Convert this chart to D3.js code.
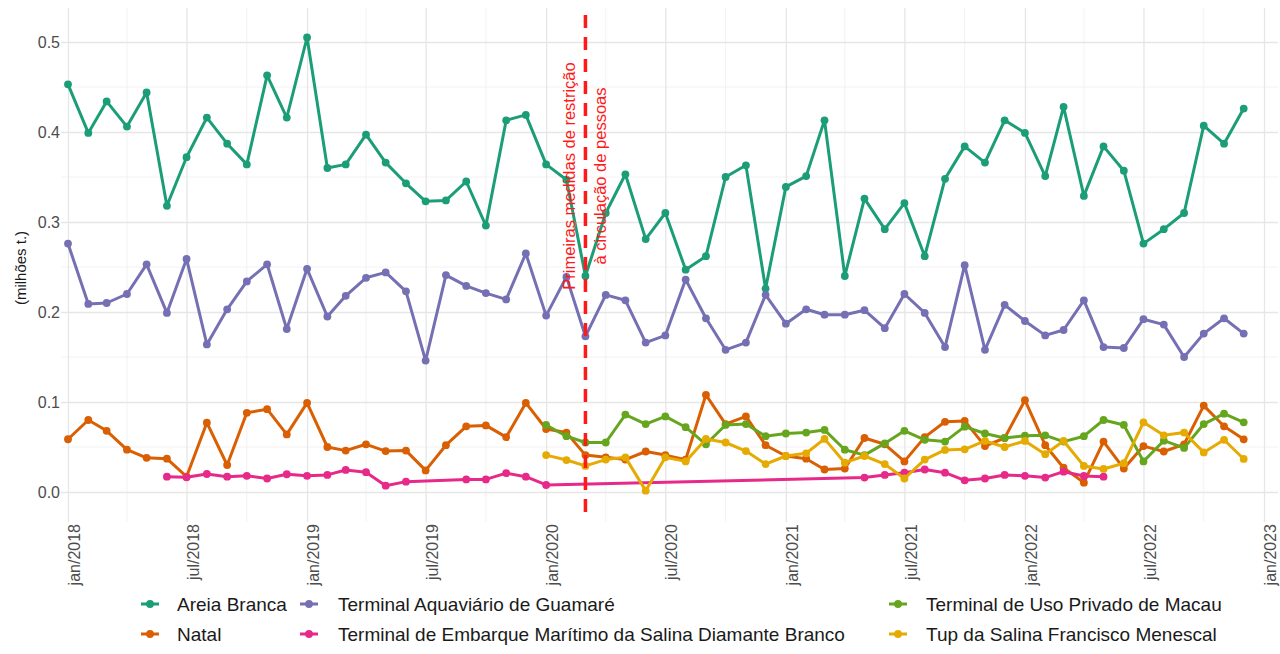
<!DOCTYPE html>
<html>
<head>
<meta charset="utf-8">
<script src="https://cdn.jsdelivr.net/npm/d3@7"></script>
<style>
  html, body { margin: 0; padding: 0; background: #fff; }
  svg { display: block; font-family: "Liberation Sans", Arial, sans-serif; }
</style>
</head>
<body>
<svg id="chart" width="1280" height="654"></svg>
<script>
// ---------------- DATA ----------------
const months = [
  "2018-01","2018-02","2018-03","2018-04","2018-05","2018-06","2018-07","2018-08","2018-09","2018-10","2018-11","2018-12",
  "2019-01","2019-02","2019-03","2019-04","2019-05","2019-06","2019-07","2019-08","2019-09","2019-10","2019-11","2019-12",
  "2020-01","2020-02","2020-03","2020-04","2020-05","2020-06","2020-07","2020-08","2020-09","2020-10","2020-11","2020-12",
  "2021-01","2021-02","2021-03","2021-04","2021-05","2021-06","2021-07","2021-08","2021-09","2021-10","2021-11","2021-12",
  "2022-01","2022-02","2022-03","2022-04","2022-05","2022-06","2022-07","2022-08","2022-09","2022-10","2022-11","2022-12"
];

const areiaBranca = [
  0.453,0.399,0.434,0.406,0.444,0.318,0.372,0.416,0.387,0.364,0.463,0.416,
  0.505,0.360,0.364,0.397,0.366,0.343,0.323,0.324,0.345,0.296,0.413,0.419,
  0.364,0.347,0.240,0.310,0.353,0.281,0.310,0.247,0.262,0.350,0.363,0.226,
  0.339,0.351,0.413,0.240,0.326,0.292,0.321,0.262,0.348,0.384,0.366,0.413,
  0.399,0.351,0.428,0.329,0.384,0.357,0.276,0.292,0.310,0.407,0.387,0.426
];
const natal = [
  0.0586,0.080,0.068,0.047,0.038,0.037,0.017,0.077,0.030,0.088,0.092,0.064,
  0.099,0.050,0.046,0.053,0.0455,0.046,0.024,0.052,0.073,0.074,0.061,0.099,
  0.070,0.066,0.041,0.0385,0.036,0.045,0.041,0.036,0.108,0.0755,0.084,0.052,
  0.040,0.037,0.025,0.026,0.060,0.053,0.034,0.061,0.078,0.079,0.051,0.060,
  0.102,0.052,0.027,0.0104,0.056,0.026,0.051,0.045,0.053,0.096,0.073,0.0585
];
const guamare = [
  0.276,0.209,0.210,0.220,0.253,0.199,0.259,0.164,0.203,0.234,0.253,0.181,
  0.248,0.195,0.218,0.238,0.244,0.223,0.146,0.241,0.229,0.221,0.214,0.265,
  0.196,0.239,0.173,0.219,0.213,0.166,0.174,0.236,0.193,0.158,0.166,0.219,
  0.187,0.203,0.197,0.197,0.202,0.182,0.220,0.199,0.161,0.252,0.158,0.208,
  0.190,0.174,0.180,0.213,0.161,0.160,0.192,0.186,0.150,0.176,0.193,0.176
];
const diamanteBranco = [
  null,null,null,null,null,0.017,0.0163,0.020,0.017,0.018,0.015,0.0197,
  0.018,0.019,0.0245,0.022,0.007,0.0115,null,null,0.014,0.014,0.021,0.017,
  0.0078,null,null,null,null,null,null,null,null,null,null,null,
  null,null,null,null,0.016,0.019,0.0215,0.025,0.0215,0.013,0.015,0.019,
  0.018,0.016,0.0226,0.0178,0.017,null,null,null,null,null,null,null
];
const macau = [
  null,null,null,null,null,null,null,null,null,null,null,null,
  null,null,null,null,null,null,null,null,null,null,null,null,
  0.0745,0.062,0.055,0.055,0.086,0.0755,0.084,0.072,0.053,0.0745,0.0755,0.062,
  0.065,0.066,0.069,0.047,0.041,0.054,0.068,0.058,0.056,0.0726,0.065,0.060,
  0.0626,0.063,0.056,0.062,0.080,0.0745,0.034,0.057,0.049,0.0755,0.087,0.0774
];
const menescal = [
  null,null,null,null,null,null,null,null,null,null,null,null,
  null,null,null,null,null,null,null,null,null,null,null,null,
  0.041,0.0355,0.029,0.036,0.0385,0.0015,0.0385,0.034,0.059,0.055,0.0455,0.031,
  0.040,0.043,0.059,0.0326,0.040,0.031,0.015,0.036,0.0467,0.0474,0.0567,0.050,
  0.0567,0.042,0.0567,0.029,0.0256,0.032,0.0774,0.063,0.066,0.044,0.058,0.0367
];

const seriesNames = [
  "Areia Branca",
  "Natal",
  "Terminal Aquaviário de Guamaré",
  "Terminal de Embarque Marítimo da Salina Diamante Branco",
  "Terminal de Uso Privado de Macau",
  "Tup da Salina Francisco Menescal"
];
const seriesValues = [areiaBranca, natal, guamare, diamanteBranco, macau, menescal];
const seriesColors = ["#1B9E77","#D95F02","#7570B3","#E7298A","#66A61E","#E6AB02"];

const yTicks = [0.0, 0.1, 0.2, 0.3, 0.4, 0.5];
const yMinorTicks = [0.05, 0.15, 0.25, 0.35, 0.45];
const xTickMonths = ["2018-01","2018-07","2019-01","2019-07","2020-01","2020-07","2021-01","2021-07","2022-01","2022-07","2023-01"];
const xTickLabels = ["jan/2018","jul/2018","jan/2019","jul/2019","jan/2020","jul/2020","jan/2021","jul/2021","jan/2022","jul/2022","jan/2023"];
const xMinorMonths = ["2018-04","2018-10","2019-04","2019-10","2020-04","2020-10","2021-04","2021-10","2022-04","2022-10"];
const eventMonth = "2020-03";
const eventLines = ["Primeiras medidas de restrição", "à circulação de pessoas"];
const yTitle = "(milhões t.)";

// ---------------- CHART ----------------
const parse = d3.utcParse("%Y-%m");
const svg = d3.select("#chart");

const panel = {left: 61, right: 1278, top: 8, bottom: 522};
const x = d3.scaleUtc()
  .domain([parse("2018-01"), parse("2023-01")])
  .range([68, 1264]);
const y = d3.scaleLinear().domain([0, 0.5]).range([492, 42]);

const grid = svg.append("g");
// minor grid
grid.selectAll(".ymin").data(yMinorTicks).join("line")
  .attr("x1", panel.left).attr("x2", panel.right)
  .attr("y1", d => y(d)).attr("y2", d => y(d))
  .attr("stroke", "#f2f2f2").attr("stroke-width", 1);
grid.selectAll(".xmin").data(xMinorMonths).join("line")
  .attr("x1", d => x(parse(d))).attr("x2", d => x(parse(d)))
  .attr("y1", panel.top).attr("y2", panel.bottom)
  .attr("stroke", "#f2f2f2").attr("stroke-width", 1);

// major grid + axes
const yAxis = d3.axisLeft(y)
  .tickValues(yTicks)
  .tickFormat(d3.format(".1f"))
  .tickSize(-(panel.right - panel.left))
  .tickPadding(1);
const gy = svg.append("g").attr("transform", `translate(${panel.left},0)`).call(yAxis);
gy.select(".domain").remove();
gy.selectAll(".tick line").attr("stroke", "#e6e6e6").attr("stroke-width", 1.3);
gy.selectAll(".tick text")
  .attr("font-size", "16px").attr("fill", "#4d4d4d")
  .attr("font-family", "Liberation Sans, Arial, sans-serif");

const xAxis = d3.axisBottom(x)
  .tickValues(xTickMonths.map(parse))
  .tickFormat((d, i) => xTickLabels[i])
  .tickSize(-(panel.bottom - panel.top));
const gx = svg.append("g").attr("transform", `translate(0,${panel.bottom})`).call(xAxis);
gx.select(".domain").remove();
gx.selectAll(".tick line").attr("stroke", "#e6e6e6").attr("stroke-width", 1.3);
gx.selectAll(".tick text")
  .attr("font-size", "16px").attr("fill", "#4d4d4d")
  .attr("font-family", "Liberation Sans, Arial, sans-serif")
  .attr("transform", "rotate(-90)")
  .attr("text-anchor", "end")
  .attr("x", -2).attr("y", 6).attr("dy", "0.35em");

// y title
svg.append("text")
  .attr("transform", "translate(20,268) rotate(-90)")
  .attr("text-anchor", "middle").attr("dominant-baseline", "central")
  .attr("font-size", "15px").attr("fill", "#1a1a1a")
  .text(yTitle);

// series
const line = d3.line().x(d => x(d.date)).y(d => y(d.value));
seriesNames.forEach((name, i) => {
  const pts = months.map((m, j) => ({date: parse(m), value: seriesValues[i][j]}))
    .filter(d => d.value !== null);
  const g = svg.append("g");
  g.append("path").datum(pts)
    .attr("d", line).attr("fill", "none")
    .attr("stroke", seriesColors[i]).attr("stroke-width", 3)
    .attr("stroke-linejoin", "round");
  g.selectAll("circle").data(pts).join("circle")
    .attr("cx", d => x(d.date)).attr("cy", d => y(d.value))
    .attr("r", 3.9).attr("fill", seriesColors[i]);
});

// event line
const ex = x(parse(eventMonth));
svg.append("line")
  .attr("x1", ex).attr("x2", ex).attr("y1", 15).attr("y2", 516)
  .attr("stroke", "#ff1a1a").attr("stroke-width", 3.5)
  .attr("stroke-dasharray", "13,9");
svg.append("text")
  .attr("transform", `translate(${ex - 16},176) rotate(-90)`)
  .attr("text-anchor", "middle").attr("dominant-baseline", "central")
  .attr("font-size", "16.5px").attr("fill", "#ff1a1a")
  .text(eventLines[0]);
svg.append("text")
  .attr("transform", `translate(${ex + 15},176) rotate(-90)`)
  .attr("text-anchor", "middle").attr("dominant-baseline", "central")
  .attr("font-size", "16.5px").attr("fill", "#ff1a1a")
  .text(eventLines[1]);

// legend (column-major, 3 columns x 2 rows)
const legCols = [{key: 150, text: 177}, {key: 309, text: 338}, {key: 898, text: 926}];
const legRows = [604, 634];
seriesNames.forEach((name, i) => {
  const c = legCols[Math.floor(i / 2)], r = legRows[i % 2];
  const g = svg.append("g");
  g.append("line").attr("x1", c.key - 9).attr("x2", c.key + 9)
    .attr("y1", r).attr("y2", r)
    .attr("stroke", seriesColors[i]).attr("stroke-width", 3);
  g.append("circle").attr("cx", c.key).attr("cy", r).attr("r", 3.9).attr("fill", seriesColors[i]);
  g.append("text").attr("x", c.text).attr("y", r)
    .attr("dominant-baseline", "central")
    .attr("font-size", "19px").attr("fill", "#1a1a1a")
    .text(name);
});
</script>
</body>
</html>
